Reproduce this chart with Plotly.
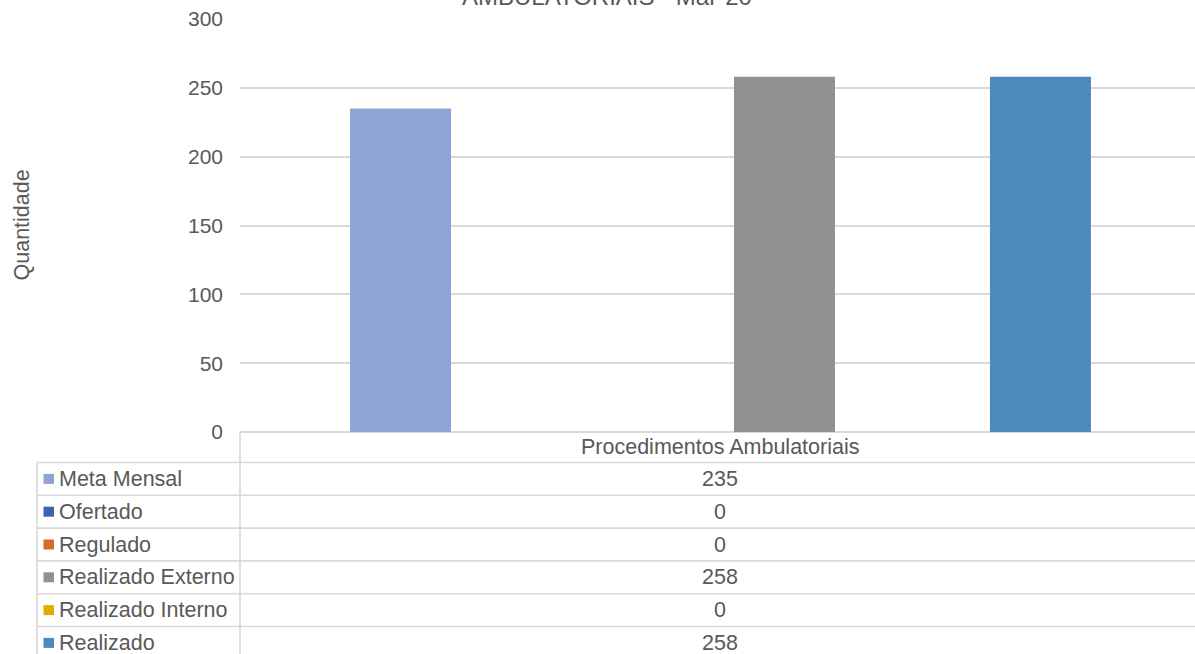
import plotly.graph_objects as go

# ---------------- data ----------------
category = ["Procedimentos Ambulatoriais"]
series_names = ["Meta Mensal", "Ofertado", "Regulado", "Realizado Externo", "Realizado Interno", "Realizado"]
series_values = [235, 0, 0, 258, 0, 258]
series_colors = ["#8FA3D4", "#3A64AF", "#D46A2B", "#919191", "#E2AB00", "#4E89BD"]
y_ticks = [0, 50, 100, 150, 200, 250, 300]
title_text = "AMBULATORIAIS - Mar-20"
y_title = "Quantidade"

# ---------------- geometry helpers (pixel -> paper) ----------------
W, H = 1195, 654
ML, MR, MT, MB = 240, 0, 19, 0
PW, PH = W - ML - MR, H - MT - MB
AXIS_PY = 432


def px(x):
    return (x - ML) / PW


def py(y):
    return (H - MB - y) / PH


TEXT = "#595959"
GRID = "#D9D9D9"
FONT = "Liberation Sans, Arial, sans-serif"
FS = 21.5

fig = go.Figure()
for name, val, col in zip(series_names, series_values, series_colors):
    fig.add_trace(go.Bar(name=name, x=category, y=[val], marker=dict(color=col, line=dict(width=0)),
                         showlegend=False, hoverinfo="x+y+name"))

shapes = []
annotations = []

# table geometry
ROW0 = 462.5
ROWH = 32.8
LEFT = 37
DIV = 240
x_mid = 720

# header row text
annotations.append(dict(x=px(x_mid), y=py((AXIS_PY + ROW0) / 2), xref="paper", yref="paper",
                        text=category[0], showarrow=False, xanchor="center", yanchor="middle",
                        font=dict(size=FS, color=TEXT, family=FONT)))

# row lines
for i in range(len(series_names) + 1):
    yy = ROW0 + ROWH * i
    shapes.append(dict(type="line", xref="paper", yref="paper", x0=px(LEFT), x1=px(W + 5),
                       y0=py(yy), y1=py(yy), line=dict(color=GRID, width=1.6)))
# vertical lines
shapes.append(dict(type="line", xref="paper", yref="paper", x0=px(LEFT), x1=px(LEFT),
                   y0=py(ROW0), y1=py(H + 20), line=dict(color=GRID, width=1.6)))
shapes.append(dict(type="line", xref="paper", yref="paper", x0=px(DIV), x1=px(DIV),
                   y0=py(AXIS_PY), y1=py(H + 20), line=dict(color=GRID, width=1.6)))

for i, (name, val, col) in enumerate(zip(series_names, series_values, series_colors)):
    cy = ROW0 + ROWH * i + ROWH / 2
    shapes.append(dict(type="rect", xref="paper", yref="paper", x0=px(43.5), x1=px(54),
                       y0=py(cy - 5), y1=py(cy + 5), fillcolor=col, line=dict(width=0)))
    annotations.append(dict(x=px(57), y=py(cy), xref="paper", yref="paper", text=name,
                            showarrow=False, xanchor="left", yanchor="middle",
                            font=dict(size=FS, color=TEXT, family=FONT)))
    annotations.append(dict(x=px(x_mid), y=py(cy), xref="paper", yref="paper", text=str(val),
                            showarrow=False, xanchor="center", yanchor="middle",
                            font=dict(size=FS, color=TEXT, family=FONT)))

# title (top cut off as in reference)
annotations.append(dict(x=px(607), y=py(-3), xref="paper", yref="paper", text=title_text,
                        showarrow=False, xanchor="center", yanchor="middle",
                        font=dict(size=24, color=TEXT, family=FONT)))
# y-axis title
annotations.append(dict(x=px(21), y=py((19 + AXIS_PY) / 2), xref="paper", yref="paper", text=y_title,
                        showarrow=False, xanchor="center", yanchor="middle", textangle=-90,
                        font=dict(size=FS, color=TEXT, family=FONT)))

fig.update_layout(
    template="none",
    width=W, height=H,
    margin=dict(l=ML, r=MR, t=MT, b=MB, pad=0, autoexpand=False),
    paper_bgcolor="white", plot_bgcolor="white",
    barmode="group", bargap=0.201, bargroupgap=0.211,
    font=dict(family=FONT, color=TEXT, size=FS),
    shapes=shapes, annotations=annotations,
    showlegend=False,
    xaxis=dict(type="category", range=[-0.5, 0.49375], showticklabels=False, showgrid=False,
               zeroline=False, showline=False, ticks="", automargin=False),
    yaxis=dict(domain=[py(AXIS_PY), 1], range=[0, 300], tickvals=y_ticks, showgrid=True,
               gridcolor=GRID, gridwidth=1.5, zeroline=True, zerolinecolor=GRID, zerolinewidth=1.6,
               showline=False, ticks="", ticklabelstandoff=16, automargin=False,
               tickfont=dict(size=21, color=TEXT, family=FONT)),
)

fig.write_html("out.html", post_script="document.body.style.margin='0px';",
               config={"displayModeBar": False})
